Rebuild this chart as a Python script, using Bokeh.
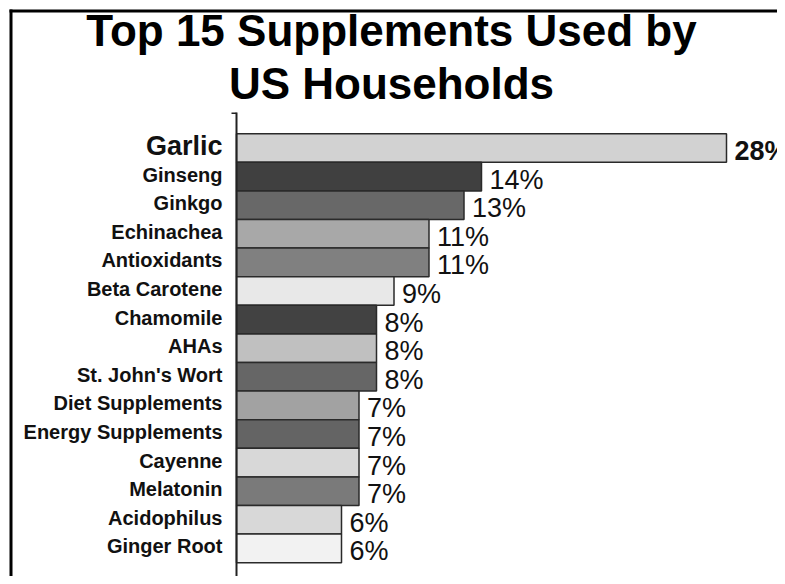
from bokeh.plotting import figure
from bokeh.models import ColumnDataSource, Range1d, LabelSet, Label, BoxAnnotation
from bokeh.core.properties import value, field
from bokeh.embed import file_html
from bokeh.resources import INLINE

categories = ["Garlic", "Ginseng", "Ginkgo", "Echinachea", "Antioxidants", "Beta Carotene",
              "Chamomile", "AHAs", "St. John's Wort", "Diet Supplements", "Energy Supplements",
              "Cayenne", "Melatonin", "Acidophilus", "Ginger Root"]
values = [28, 14, 13, 11, 11, 9, 8, 8, 8, 7, 7, 7, 7, 6, 6]
value_labels = ["28%", "14%", "13%", "11%", "11%", "9%", "8%", "8%", "8%", "7%", "7%", "7%", "7%", "6%", "6%"]
bar_colors = ["#d2d2d2", "#404040", "#686868", "#a8a8a8", "#808080", "#e8e8e8",
              "#424242", "#c0c0c0", "#666666", "#a2a2a2", "#646464", "#d8d8d8",
              "#7a7a7a", "#d8d8d8", "#f2f2f2"]
label_sizes = ["27px"] + ["20px"] * 14
value_styles = ["bold"] + ["normal"] * 14
title_lines = ["Top 15 Supplements Used by", "US Households"]

W, H = 777, 576
PX_X = 17.5     # pixels per percent
PX_Y = 28.6     # pixels per row
AXIS_X = 236    # canvas x of the zero line
ROW0_Y = 147.5  # canvas y of the first row centre
AXIS_TOP = 112  # canvas y where the axis line starts


def dx(px):
    return (px - AXIS_X) / PX_X


def dy(px):
    return (px - ROW0_Y) / PX_Y


rank = list(range(len(categories)))
src = ColumnDataSource(dict(cat=categories, rank=rank, val=values, vlab=value_labels,
                            color=bar_colors, lsize=label_sizes, vstyle=value_styles,
                            zero=[0] * len(values)))

p = figure(width=W, height=H, output_backend="svg", toolbar_location=None,
           x_range=Range1d(dx(0), dx(W)), y_range=Range1d(dy(H), dy(0)),
           x_axis_location=None, y_axis_location=None, min_border=0)
p.outline_line_color = None
p.grid.visible = False
p.background_fill_color = "white"
p.border_fill_color = "white"

# frame border of the original picture (top and left edges)
p.add_layout(BoxAnnotation(left=dx(9), right=dx(12), top=dy(9), bottom=None,
                           fill_color="black", fill_alpha=1, line_color=None))
p.add_layout(BoxAnnotation(left=dx(9), right=None, top=dy(9), bottom=dy(12),
                           fill_color="black", fill_alpha=1, line_color=None))

p.hbar(y="rank", right="val", left=0, height=1.0, source=src, fill_color="color",
       line_color="#2a2a2a", line_width=1.5)

# value axis zero line with its small top tick
p.add_layout(BoxAnnotation(left=dx(AXIS_X - 1), right=dx(AXIS_X + 1), top=dy(AXIS_TOP), bottom=None,
                           fill_color="#222222", fill_alpha=1, line_color=None))
p.add_layout(BoxAnnotation(left=dx(AXIS_X - 5), right=dx(AXIS_X), top=dy(AXIS_TOP), bottom=dy(AXIS_TOP + 1.5),
                           fill_color="#222222", fill_alpha=1, line_color=None))

names = LabelSet(x="zero", y="rank", text="cat", source=src, x_offset=-14, y_offset=2,
                 text_align="right", text_baseline="middle",
                 text_font=value("Liberation Sans"), text_font_style="bold",
                 text_font_size=field("lsize"), text_color="#111111")
p.add_layout(names)

vals = LabelSet(x="val", y="rank", text="vlab", source=src, x_offset=8, y_offset=-3,
                text_align="left", text_baseline="middle",
                text_font=value("Liberation Sans"), text_font_style=field("vstyle"),
                text_font_size=value("27px"), text_color="#111111")
p.add_layout(vals)

for line, base in zip(title_lines, [H - 30, H - 83]):
    p.add_layout(Label(x=391, y=base, x_units="screen", y_units="screen", text=line,
                       text_align="center", text_baseline="alphabetic",
                       text_font="Liberation Sans",
                       text_font_style="bold", text_font_size="44px", text_color="#000000"))

open("out.html", "w").write(file_html(p, INLINE))
